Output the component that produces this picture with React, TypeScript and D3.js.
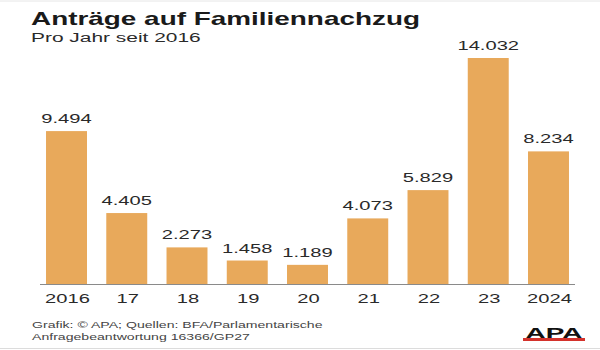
import React from "react";
import * as d3 from "d3";

const categories = ["2016", "17", "18", "19", "20", "21", "22", "23", "2024"];
const values = [9494, 4405, 2273, 1458, 1189, 4073, 5829, 14032, 8234];
const valueLabels = ["9.494", "4.405", "2.273", "1.458", "1.189", "4.073", "5.829", "14.032", "8.234"];

const title = "Anträge auf Familiennachzug";
const subtitle = "Pro Jahr seit 2016";
const footer1 = "Grafik: © APA; Quellen: BFA/Parlamentarische";
const footer2 = "Anfragebeantwortung 16366/GP27";

const W = 600;
const H = 350;
const S = 1.55; // horizontal stretch of the reference
const FONT = "'Liberation Sans', Arial, Helvetica, sans-serif";
const BAR = "#E8A95B";

function SText({ x, y, s = S, anchor = "start", size, weight = 400, fill = "#333", children }: any) {
  return (
    <text
      transform={`translate(${x},${y}) scale(${s},1)`}
      textAnchor={anchor}
      fontSize={size}
      fontWeight={weight}
      fill={fill}
      fontFamily={FONT}
    >
      {children}
    </text>
  );
}

export default function App() {
  const x = d3.scaleBand<string>().domain(categories).range([40, 575]).paddingInner(0.32).paddingOuter(0.1);
  const baseY = 284;
  const y = d3.scaleLinear().domain([0, d3.max(values) as number]).range([baseY, 58]);

  return (
    <svg width={W} height={H} style={{ position: "absolute", left: 0, top: 0, background: "#fff" }}>
      <rect x={0} y={0} width={W} height={H} fill="#fff" />
      <line x1={0} x2={W} y1={1} y2={1} stroke="#e6e6e6" />
      <SText x={31} y={25} size={18} weight={700} fill="#1a1a1a">{title}</SText>
      <SText x={31} y={42} size={13.5} fill="#2a2a2a">{subtitle}</SText>

      {categories.map((c, i) => {
        const bx = x(c) as number;
        const bw = x.bandwidth();
        const by = y(values[i]);
        return (
          <g key={c}>
            <rect x={bx} y={by} width={bw} height={baseY - by} fill={BAR} />
            <SText x={bx + bw / 2} y={by - 8} anchor="middle" size={13} fill="#2a2a2a">
              {valueLabels[i]}
            </SText>
            <SText x={bx + bw / 2 + 1} y={303} anchor="middle" size={13} fill="#2a2a2a">
              {c}
            </SText>
          </g>
        );
      })}
      <line x1={40} x2={575} y1={baseY + 0.5} y2={baseY + 0.5} stroke="#8a8a8a" strokeWidth={1} />

      <SText x={32} y={328} size={9.1} fill="#444">{footer1}</SText>
      <SText x={32} y={339.5} size={9.1} fill="#444">{footer2}</SText>

      <SText x={554} y={338} s={1.8} anchor="middle" size={15.5} weight={700} fill="#111">APA</SText>
      <rect x={523} y={338} width={62} height={3} fill="#d4322c" />
      <line x1={0} x2={W} y1={348.5} y2={348.5} stroke="#dcdcdc" />
    </svg>
  );
}
